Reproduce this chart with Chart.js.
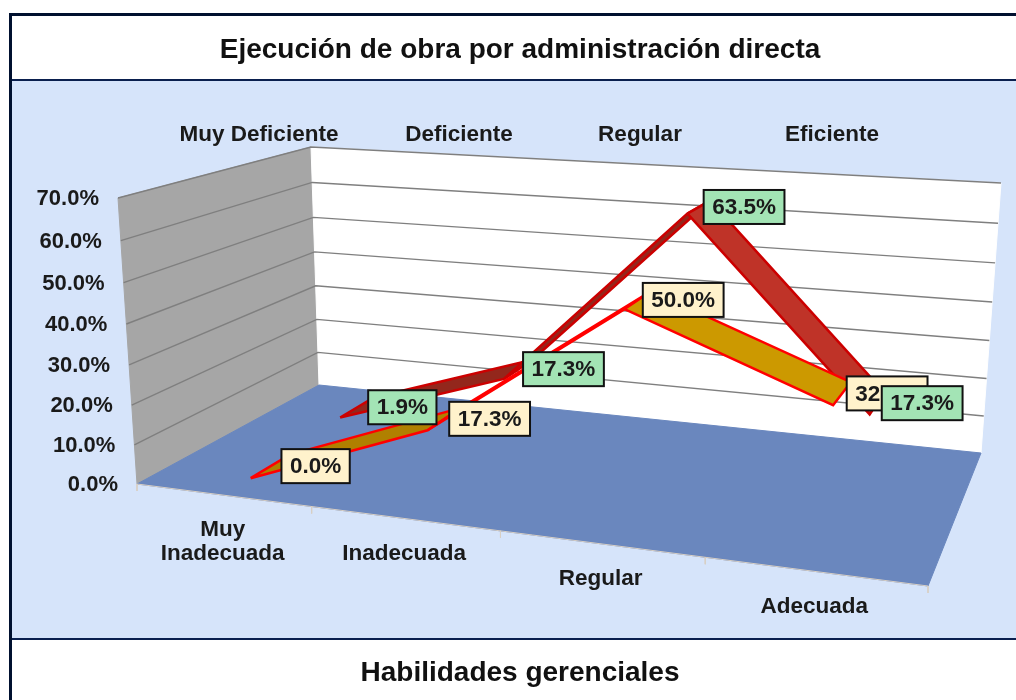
<!DOCTYPE html>
<html><head><meta charset="utf-8">
<style>html,body{margin:0;padding:0;background:#fff}canvas{display:block}</style>
<script src="https://cdn.jsdelivr.net/npm/chart.js@4"></script>
</head><body><canvas id="c" width="1016" height="700"></canvas>
<script>
const categories = [["Muy","Inadecuada"],["Inadecuada"],["Regular"],["Adecuada"]];
const depthLabels = ["Muy Deficiente","Deficiente","Regular","Eficiente"];
const creamValues = [0.0,17.3,50.0,32.7];
const greenValues = [1.9,17.3,63.5,17.3];
const valueTicks = [0,10,20,30,40,50,60,70];

// Layout of the perspective box (plot frame, not data)
const FLOOR = [[137,484],[928,586],[981,453],[319,385]];
const TOP   = [[118,198],[944,250],[1001,183],[311,147]];
const AXIS_MAX = 70, PERSP = 0.05;
const CREAM_DEPTH = [0.14,0.35], GREEN_DEPTH = [0.65,0.87];
const DEPTH_LABEL_X = [259,459,640,832];
const C = {band:'#D6E4FA',frame:'#0A1F4E',floor:'#6A87BE',wall:'#A6A6A6',back:'#FFFFFF',grid:'#7F7F7F',
  creamFill:'#CC9900',creamDark:'#B08000',creamLine:'#FF0000',creamLabel:'#FFF2CC',
  greenFill:'#BF3328',greenDark:'#93271C',greenLine:'#CC0000',greenLabel:'#A3E4B5',tick:'#D8CFC4'};

function homography(q){
  const [[x0,y0],[x1,y1],[x2,y2],[x3,y3]] = q;
  const sx=x0-x1+x2-x3, sy=y0-y1+y2-y3, dx1=x1-x2, dx2=x3-x2, dy1=y1-y2, dy2=y3-y2;
  const det=dx1*dy2-dx2*dy1, g=(sx*dy2-dx2*sy)/det, h=(dx1*sy-sx*dy1)/det;
  const a=x1-x0+g*x1, b=x3-x0+h*x3, d=y1-y0+g*y1, e=y3-y0+h*y3;
  return (u,w)=>{const k=g*u+h*w+1; return [(a*u+b*w+x0)/k,(d*u+e*w+y0)/k];};
}
const floorH=homography(FLOOR), topH=homography(TOP);
function project(u,w,v){
  const t=v/AXIS_MAX, f=t/(1+PERSP*(1-t));
  const A=floorH(u,w), B=topH(u,w);
  return {x:A[0]+(B[0]-A[0])*f, y:A[1]+(B[1]-A[1])*f};
}
const catU=i=>(i+0.5)/categories.length;

function poly(points,fill,line,width){
  const closed=points.concat([points[0]]);
  return {type:'scatter',showLine:true,data:closed,fill:fill?'shape':false,backgroundColor:fill||'transparent',
    borderColor:line||fill,borderWidth:width==null?1:width,pointRadius:0,tension:0,borderJoinStyle:'miter'};
}
function path(points,line,width){
  return {type:'scatter',showLine:true,data:points,fill:false,borderColor:line,borderWidth:width,pointRadius:0,tension:0};
}
function ribbon(values,depth,fill,dark,line,width){
  const out=[];
  for(let i=0;i<values.length-1;i++){
    const rising=values[i+1]>values[i];
    out.push(poly([
      project(catU(i),depth[0],values[i]),project(catU(i+1),depth[0],values[i+1]),
      project(catU(i+1),depth[1],values[i+1]),project(catU(i),depth[1],values[i])
    ],rising?dark:fill,line,width));
  }
  return out;
}
const paint=[];
paint.push(poly([project(0,0,0),project(0,1,0),project(0,1,AXIS_MAX),project(0,0,AXIS_MAX)],C.wall,C.wall,1));
paint.push(poly([project(0,1,0),project(1,1,0),project(1,1,AXIS_MAX),project(0,1,AXIS_MAX)],C.back,C.back,1));
paint.push(poly([project(0,0,0),project(1,0,0),project(1,1,0),project(0,1,0)],C.floor,C.floor,1));
valueTicks.slice(1).forEach(v=>paint.push(path([project(0,0,v),project(0,1,v),project(1,1,v)],C.grid,1.4)));
paint.push(path([project(0,0,0),project(1,0,0)],C.tick,1));
for(let i=0;i<=categories.length;i++){const p=project(i/categories.length,0,0);paint.push(path([p,{x:p.x,y:p.y+7}],C.tick,1));}
paint.push(...ribbon(greenValues,GREEN_DEPTH,C.greenFill,C.greenDark,C.greenLine,2.5));
paint.push(...ribbon(creamValues,CREAM_DEPTH,C.creamFill,C.creamDark,C.creamLine,2.5));

const FONT='"Liberation Sans",Arial,sans-serif';
const frame={id:'frame',
  beforeDraw(ch){const g=ch.ctx,W=ch.width,H=ch.height;g.save();
    g.fillStyle='#fff';g.fillRect(0,0,W,H);
    g.fillStyle=C.band;g.fillRect(12,80,W-12,559);
    g.fillStyle=C.frame;g.fillRect(12,79,W-12,2);g.fillRect(12,638,W-12,2);
    g.fillStyle='#00102F';g.fillRect(9,13,3,H-13);g.fillRect(9,13,W-9,3);
    g.restore();},
  afterDatasetsDraw(ch){const g=ch.ctx,sx=ch.scales.x,sy=ch.scales.y;
    const px=p=>({x:sx.getPixelForValue(p.x),y:sy.getPixelForValue(p.y)});
    g.save();g.fillStyle='#1a1a1a';g.textBaseline='middle';
    const text=(s,x,y,al,size)=>{g.font='bold '+size+'px '+FONT;g.textAlign=al;g.fillText(s,x,y);};
    valueTicks.forEach(v=>{const p=px(project(0,0,v));text(v.toFixed(1)+'%',p.x-19,p.y+1,'right',22);});
    categories.forEach((c,i)=>{const p=px(project(catU(i),0,0));
      c.forEach((s,j)=>text(s,p.x,p.y+35+j*24,'center',22.5));});
    depthLabels.forEach((s,i)=>text(s,DEPTH_LABEL_X[i],135,'center',22.5));
    const label=(values,depth,fill)=>values.forEach((v,i)=>{
      const p=px(project(catU(i),(depth[0]+depth[1])/2,v));
      const s=v.toFixed(1)+'%';
      g.font='bold 22.5px '+FONT;
      const w=g.measureText(s).width+17,h=34,cx=p.x+45,cy=p.y;
      g.fillStyle=fill;g.strokeStyle='#111';g.lineWidth=2;
      g.fillRect(cx-w/2,cy-h/2,w,h);g.strokeRect(cx-w/2,cy-h/2,w,h);
      g.fillStyle='#1a1a1a';text(s,cx,cy+1,'center',22.5);
    });
    label(creamValues,CREAM_DEPTH,C.creamLabel);
    label(greenValues,GREEN_DEPTH,C.greenLabel);
    g.restore();}
};
new Chart(document.getElementById('c'),{
  type:'scatter',
  data:{datasets:paint.slice().reverse()},
  plugins:[frame],
  options:{responsive:false,animation:false,events:[],
    layout:{padding:{left:24,right:0,top:0,bottom:0}},
    plugins:{legend:{display:false},tooltip:{enabled:false},
      title:{display:true,text:'Ejecución de obra por administración directa',color:'#111',
        font:{family:FONT,size:28,weight:'bold',lineHeight:1},padding:{top:36,bottom:16}}},
    scales:{
      x:{type:'linear',min:24,max:1016,grid:{display:false},border:{display:false},ticks:{display:false},
        afterFit(s){s.height=61;},
        title:{display:true,text:'Habilidades gerenciales',color:'#111',
          font:{family:FONT,size:28,weight:'bold',lineHeight:1},padding:{top:20,bottom:13}}},
      y:{type:'linear',min:80,max:639,reverse:true,display:false}
    }}
});
</script></body></html>
